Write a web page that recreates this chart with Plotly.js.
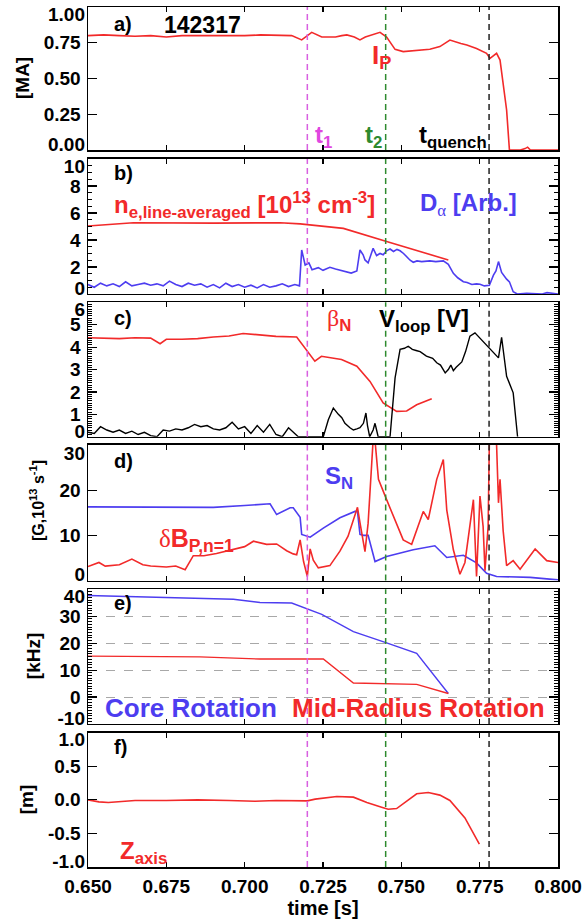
<!DOCTYPE html>
<html><head><meta charset="utf-8">
<script src="https://cdn.plot.ly/plotly-3.0.1.min.js"></script>
<style>html,body{margin:0;padding:0;background:#fff}#chart{width:584px;height:919px}</style>
</head><body><div id="chart"></div>
<script>
// ---------- tick labels ----------
const xTickVals = [0.650,0.675,0.700,0.725,0.750,0.775,0.800];
const xTickText = ['0.650','0.675','0.700','0.725','0.750','0.775','0.800'];
const eventTimes = [0.720, 0.745, 0.778];

const aTicks = [0,0.25,0.5,0.75,1.0], aTickText = ['0.00','0.25','0.50','0.75','1.00'];
const bTicks = [0,2,4,6,8,10],        bTickText = ['0','2','4','6','8','10'];
const cTicks = [0,1,2,3,4,5,6],       cTickText = ['0','1','2','3','4','5','6'];
const dTicks = [0,10,20,30],          dTickText = ['0','10','20','30'];
const eTicks = [-10,0,10,20,30,40],   eTickText = ['-10','0','10','20','30','40'];
const fTicks = [-1,-0.5,0,0.5,1],     fTickText = ['-1.0','-0.5','0.0','0.5','1.0'];

// ---------- a) plasma current ----------
const ipT = [0.650,0.655,0.660,0.665,0.670,0.675,0.680,0.685,0.690,0.695,0.700,0.705,0.710,0.7150,0.7182,0.7214,0.7246,0.7290,0.7310,0.7326,0.7350,0.7368,0.7385,0.7400,0.7432,0.7453,0.7480,0.7506,0.7550,0.7591,0.7623,0.7655,0.7690,0.7709,0.7740,0.7772,0.7783,0.7795,0.7804,0.7815,0.7825,0.7836,0.7845,0.7880,0.7895,0.7903,0.7912,0.7930,0.8000];
const ipV = [0.80,0.805,0.80,0.795,0.80,0.79,0.80,0.80,0.795,0.80,0.80,0.805,0.80,0.80,0.77,0.823,0.79,0.79,0.80,0.805,0.79,0.77,0.79,0.80,0.823,0.79,0.704,0.688,0.695,0.704,0.723,0.769,0.745,0.734,0.71,0.676,0.641,0.66,0.676,0.629,0.466,0.28,0.0,0.0,0.01,0.02,0.0,0.0,0.0];

// ---------- b) density and D-alpha ----------
const neT = [0.650,0.6645,0.690,0.7113,0.7177,0.7315,0.7453,0.765];
const neV = [5.04,5.28,5.25,5.28,5.19,4.86,3.88,2.52];
const daT = [0.650,0.652,0.654,0.656,0.658,0.660,0.662,0.664,0.666,0.668,0.670,0.672,0.674,0.676,0.678,0.680,0.682,0.684,0.686,0.688,0.690,0.692,0.694,0.696,0.698,0.700,0.702,0.704,0.706,0.708,0.710,0.712,0.714,0.716,0.7175,
  0.7182,0.7193,0.7205,0.7215,0.7235,0.725,0.7272,0.729,0.731,0.7326,0.734,0.7358,0.7368,0.7378,0.7384,0.7394,0.7405,0.741,0.7421,0.7432,0.7442,0.7453,0.7464,0.7475,0.7486,0.7496,0.7507,0.7517,0.7528,0.7538,0.755,0.7565,0.7591,0.761,0.7634,0.765,0.7666,0.768,0.7698,0.771,0.7725,0.774,0.7751,0.7765,0.7781,0.7794,0.7802,0.781,0.7816,0.782,0.7836,0.7845,0.7857,0.787,0.790,0.795,0.7965,0.800];
const daV = [0.7,0.5,0.8,0.6,0.75,0.55,0.9,0.6,0.7,0.8,0.65,0.75,0.6,0.95,0.7,0.55,0.8,0.65,0.75,0.5,0.7,0.45,0.8,0.55,0.7,0.5,0.65,0.45,0.7,0.5,0.6,0.75,0.55,0.7,0.6,
  3.26,2.15,2.3,1.8,1.95,1.75,1.98,1.85,1.75,1.65,1.55,1.7,3.26,2.9,2.52,2.3,3.1,3.38,2.85,3.0,2.9,3.2,3.33,3.15,3.3,3.2,3.0,2.77,2.5,2.35,2.45,2.4,2.45,2.4,2.45,2.2,1.53,1.2,0.91,0.85,0.7,0.75,0.72,0.6,0.65,1.4,1.7,2.4,1.9,1.6,1.1,0.9,0.17,0.0,0.05,0.0,0.1,0.0];

// ---------- c) beta_N and loop voltage ----------
const bnT = [0.650,0.655,0.660,0.665,0.670,0.673,0.675,0.680,0.685,0.690,0.695,0.6995,0.705,0.710,0.7166,0.7193,0.7224,0.7245,0.7272,0.7309,0.7358,0.740,0.7442,0.7485,0.7517,0.7549,0.7597];
const bnV = [4.42,4.40,4.38,4.42,4.40,4.15,4.35,4.35,4.38,4.45,4.50,4.61,4.55,4.48,4.45,3.97,3.37,3.59,3.52,3.45,3.15,2.47,1.51,1.13,1.15,1.43,1.70];
const vlT = [0.650,0.652,0.654,0.656,0.658,0.660,0.662,0.664,0.666,0.668,0.670,0.672,0.674,0.676,0.678,0.680,0.682,0.684,0.686,0.688,0.690,0.692,0.694,0.696,0.698,0.700,0.702,0.704,0.706,0.708,0.710,0.712,0.714,0.716,0.7171,0.7251,0.7267,0.7283,0.7293,0.7299,0.731,0.732,0.7336,0.7347,0.7358,0.7368,0.7379,0.7387,0.7392,0.7399,0.741,0.7416,0.7421,0.7426,0.7464,0.748,0.7496,0.751,0.7522,0.7535,0.7547,0.756,0.758,0.760,0.7613,0.7625,0.764,0.765,0.7658,0.7666,0.7675,0.7693,0.7705,0.7719,0.7735,0.7751,0.7765,0.7781,0.780,0.781,0.782,0.7836,0.7857,0.7871];
const vlV = [0.2,0.15,0.45,0.3,0.2,0.3,0.15,0.25,0.1,0.2,0.05,0.0,0.3,0.25,0.35,0.3,0.4,0.55,0.45,0.5,0.35,0.3,0.4,0.65,0.35,0.45,0.15,0.5,0.2,0.55,0.1,0.0,0.4,0.15,0.0,0.0,0.76,1.28,1.1,1.0,0.85,0.6,0.4,0.3,0.35,0.4,0.6,1.06,0.5,0.0,0.3,0.6,0.3,0.0,0.0,2.63,3.9,3.95,4.04,3.9,3.85,3.8,3.6,3.5,3.3,3.2,2.85,3.0,3.2,2.95,3.1,3.34,3.8,4.49,4.64,4.4,4.2,3.95,3.7,3.52,4.44,2.7,1.96,0.0];

// ---------- d) neutron rate and n=1 perturbation ----------
const snT = [0.650,0.660,0.670,0.680,0.690,0.700,0.7081,0.7102,0.7125,0.7145,0.7155,0.7177,0.7182,0.7209,0.7251,0.7304,0.7352,0.736,0.7368,0.738,0.7394,0.7416,0.7453,0.750,0.7538,0.7607,0.7645,0.7698,0.774,0.7772,0.7804,0.7911,0.800];
const snV = [16.3,16.3,16.2,16.2,16.2,16.6,17.0,14.6,15.4,16.1,16.1,14.0,10.2,9.6,11.6,13.9,15.3,15.3,10.2,10.0,10.0,4.2,5.3,6.2,6.8,7.7,5.1,5.6,3.9,1.6,0.9,0.7,0.15];
const dbT = [0.650,0.6535,0.6555,0.660,0.664,0.6675,0.670,0.675,0.678,0.681,0.6836,0.687,0.691,0.6964,0.700,0.7028,0.707,0.7102,0.7134,0.7155,0.7166,0.7177,0.7188,0.7200,0.7209,0.7219,0.7235,0.7272,0.7304,0.7330,0.7346,0.7360,0.7368,0.7384,0.7394,0.7409,0.7416,0.7427,0.7453,0.7474,0.7506,0.7533,0.7570,0.7586,0.7613,0.7634,0.7645,0.7666,0.7687,0.7703,0.7719,0.7730,0.7740,0.7751,0.7761,0.7767,0.7777,0.7781,0.7794,0.7804,0.7810,0.7815,0.7825,0.7836,0.7857,0.7879,0.7927,0.7964,0.800];
const dbV = [3.1,4.0,3.2,3.5,4.75,3.5,3.2,3.0,3.2,2.4,5.5,5.5,6.0,6.8,7.5,8.7,8.0,8.1,6.6,5.9,5.7,9.0,4.2,0.9,7.0,4.5,2.8,3.3,6.5,9.8,13.1,16.2,12.8,6.4,12.7,30.0,31.0,22.4,17.9,14.2,9.0,8.0,15.3,13.5,22.4,26.8,15.6,6.8,1.4,4.0,12.0,17.9,0.9,18.7,12.0,2.2,12.0,31.0,31.0,30.0,17.2,22.4,11.0,3.3,4.4,2.5,7.0,4.4,4.0];

// ---------- e) rotation ----------
const coreT = [0.650,0.675,0.6964,0.7049,0.715,0.7246,0.7347,0.7453,0.7549,0.765];
const coreV = [37.7,37.0,36.3,35.1,34.9,30.7,24.3,20.1,16.2,1.3];
const midT = [0.650,0.6857,0.7049,0.7251,0.7347,0.7549,0.765];
const midV = [15.2,14.9,14.1,14.1,5.2,4.7,1.3];

// ---------- f) vertical position ----------
const zT = [0.650,0.6535,0.6565,0.660,0.665,0.675,0.685,0.695,0.7033,0.710,0.715,0.720,0.7225,0.7294,0.7347,0.739,0.7437,0.7458,0.7485,0.7549,0.7586,0.7623,0.7655,0.7703,0.7749];
const zV = [0.0,-0.03,-0.04,-0.03,-0.01,-0.01,0.0,-0.01,-0.02,-0.01,-0.01,-0.015,0.01,0.05,0.04,-0.04,-0.11,-0.14,-0.13,0.09,0.11,0.07,-0.01,-0.27,-0.66];

// ---------- styling ----------
const RED = '#f22a2a', BLUE = '#4d3df0', MAG = '#d860e0', GRN = '#2e8a2e', BLK = '#000000';
const FONT = 'Liberation Sans, Arial, Helvetica, sans-serif';
const SERIF = 'Liberation Serif, Times New Roman, serif';

const panels = [
  {dom:[0.8337,1.0],    range:[0,1],     tv:aTicks, tt:aTickText, minor:null, title:'[MA]', tx:22.5, ty:0.5, ts:19, sh:[7,-6]},
  {dom:[0.6663,0.8233], range:[0,10],    tv:bTicks, tt:bTickText, minor:0.5,  title:'', sh:[7,-6]},
  {dom:[0.5003,0.6566], range:[0,6],     tv:cTicks, tt:cTickText, minor:0.1,  title:'', sh:[7,-5]},
  {dom:[0.3331,0.4907], range:[0,30],    tv:dTicks, tt:dTickText, minor:null, title:'[G,10<sup>13</sup> s<sup>-1</sup>]', tx:37, ty:0.587, ts:16, sh:[8,-6]},
  {dom:[0.1663,0.3229], range:[-10,40],  tv:eTicks, tt:eTickText, minor:1,    title:'[kHz]', tx:33.5, ty:0.5, ts:19, grid:true, sh:[7,-6]},
  {dom:[0.0,0.1562],    range:[-1,1],    tv:fTicks, tt:fTickText, minor:null, title:'[m]', tx:26.5, ty:0.5, ts:19, sh:[7,-6]}
];

const layout = {
  width:584, height:919, margin:{l:88, r:26, t:7, b:52},
  paper_bgcolor:'#fff', plot_bgcolor:'#fff', showlegend:false,
  font:{family:FONT, size:19, color:'#000', weight:'bold'},
  shapes:[], annotations:[]
};
const traces = [];
const tickFont = {family:FONT, size:19, color:'#000', weight:'bold'};
let extra = 7;

panels.forEach((p,i)=>{
  const n = i+1;
  const xk = 'xaxis'+(n===1?'':n), yk = 'yaxis'+(n===1?'':n);
  const xr = 'x'+(n===1?'':n), yr = 'y'+(n===1?'':n);
  layout[xk] = {
    domain:[0,1], anchor:yr, range:[0.65,0.80], autorange:false,
    showline:true, linecolor:'#000', linewidth:1.5, mirror:'ticks',
    ticks:'inside', ticklen:5, tickwidth:1.2, tickcolor:'#000',
    tickvals:xTickVals, ticktext:xTickText, showticklabels:(n===6),
    tickfont:tickFont, ticklabelstandoff:2,
    showgrid:false, zeroline:false
  };
  if (n===6) layout[xk].title = {text:'time [s]', font:{family:FONT,size:20,weight:'bold'}, standoff:6};
  const last = p.tt.length-1;
  layout[yk] = {
    domain:p.dom, anchor:xr, range:p.range, autorange:false,
    showline:true, linecolor:'#000', linewidth:1.5, mirror:'ticks',
    ticks:'inside', ticklen:9, tickwidth:1.2, tickcolor:'#000',
    tickvals:p.tv.slice(1,last), ticktext:p.tt.slice(1,last), tickfont:tickFont, ticklabelstandoff:2,
    showgrid:!!p.grid, gridcolor:'#a8a8a8', gridwidth:1, griddash:'dash',
    zeroline:false
  };
  if (p.minor) layout[yk].minor = {dtick:p.minor, ticks:'inside', ticklen:4, tickwidth:1, tickcolor:'#000', showgrid:false};
  // end tick labels shifted inward (as in the original figure)
  [[p.tv[last], p.tt[last], p.sh[0]],[p.tv[0], p.tt[0], p.sh[1]]].forEach(([v,t,sh])=>{
    const k = extra++;
    layout['yaxis'+k] = {
      overlaying:yr, anchor:xr, side:'left', range:p.range, autorange:false,
      showline:false, ticks:'', tickvals:[v], ticktext:[t], tickfont:tickFont,
      ticklabelstandoff:2, ticklabelshift:sh, showgrid:false, zeroline:false
    };
    traces.push({x:[], y:[], xaxis:xr, yaxis:'y'+k, mode:'lines', hoverinfo:'skip', showlegend:false});
  });
  // minor ticks on the right-hand frame
  if (p.minor) {
    const k = extra++;
    layout['yaxis'+k] = {
      overlaying:yr, anchor:xr, side:'right', range:p.range, autorange:false,
      showline:false, ticks:'inside', ticklen:9, tickwidth:1.2, tickcolor:'#000',
      tickvals:p.tv, showticklabels:false, showgrid:false, zeroline:false,
      minor:{dtick:p.minor, ticks:'inside', ticklen:4, tickwidth:1, tickcolor:'#000', showgrid:false}
    };
    traces.push({x:[], y:[], xaxis:xr, yaxis:'y'+k, mode:'lines', hoverinfo:'skip', showlegend:false});
  }
  // y-axis title
  if (p.title) layout.annotations.push({xref:'paper', yref:yr+' domain', x:(p.tx-88)/470, y:p.ty,
    text:p.title, textangle:-90, showarrow:false, xanchor:'center', yanchor:'middle',
    font:{family:FONT, size:p.ts, color:'#000', weight:'bold'}});
  // event lines
  const evCol = [MAG, GRN, '#222'];
  eventTimes.forEach((t,j)=>{
    layout.shapes.push({type:'line', xref:xr, yref:yr+' domain', x0:t, x1:t, y0:0, y1:1,
      line:{color:evCol[j], width:1.5, dash:'6px,4px'}, layer:'above'});
  });
});

function ln(x,y,n,color,w){ traces.push({x:x, y:y, xaxis:'x'+(n===1?'':n), yaxis:'y'+(n===1?'':n), mode:'lines', line:{color:color, width:w||1.6}, hoverinfo:'skip'}); }
ln(ipT, ipV, 1, RED);
ln(neT, neV, 2, RED);
ln(daT, daV, 2, BLUE);
ln(bnT, bnV, 3, RED);
ln(vlT, vlV, 3, BLK, 1.4);
ln(snT, snV, 4, BLUE);
ln(dbT, dbV, 4, RED);
ln(coreT, coreV, 5, BLUE, 1.4);
ln(midT, midV, 5, RED, 1.4);
ln(zT, zV, 6, RED);

function ann(n, x, y, text, color, size, anchor){
  layout.annotations.push({xref:'x'+(n===1?'':n), yref:'y'+(n===1?'':n), x:x, y:y, text:text, showarrow:false,
    xanchor:anchor||'left', yanchor:'middle', font:{family:FONT, size:size, color:color, weight:'bold'}});
}
const gs = (c)=>'<span style="font-family:'+SERIF+';font-weight:normal">'+c+'</span>';
ann(1, 0.6577, 0.881, 'a)', BLK, 20);
ann(1, 0.6867, 0.874, '142317', BLK, 23, 'center');
ann(1, 0.7400, 0.657, 'I<sub>P</sub>', RED, 26);
ann(1, 0.7218, 0.098, 't<sub>1</sub>', '#e046e0', 24);
ann(1, 0.7378, 0.098, 't<sub>2</sub>', GRN, 24);
ann(1, 0.7550, 0.098, 't<sub>quench</sub>', BLK, 24);
ann(2, 0.6577, 8.96, 'b)', BLK, 20);
ann(2, 0.6577, 6.6, 'n<sub>e,line-averaged</sub> [10<sup>13</sup> cm<sup>-3</sup>]', RED, 24);
ann(2, 0.7553, 6.6, 'D<sub>'+gs('α')+'</sub> [Arb.]', BLUE, 24);
ann(3, 0.6577, 5.32, 'c)', BLK, 20);
ann(3, 0.7256, 5.23, gs('β')+'<sub>N</sub>', RED, 24);
ann(3, 0.7422, 5.2, 'V<sub>loop</sub> [V]', BLK, 24);
ann(4, 0.6577, 26.4, 'd)', BLK, 20);
ann(4, 0.7250, 22.8, 'S<sub>N</sub>', BLUE, 24);
ann(4, 0.6720, 9.0, gs('δ')+'B<sub>P,n=1</sub>', RED, 25);
ann(5, 0.6577, 35, 'e)', BLK, 20);
ann(5, 0.6548, -4.2, 'Core Rotation', BLUE, 26);
ann(5, 0.7145, -4.2, 'Mid-Radius Rotation', RED, 26);
ann(6, 0.6577, 0.79, 'f)', BLK, 20);
ann(6, 0.6596, -0.78, 'Z<sub>axis</sub>', RED, 24);

Plotly.newPlot('chart', traces, layout, {displayModeBar:false, staticPlot:true});
</script>
</body></html>
